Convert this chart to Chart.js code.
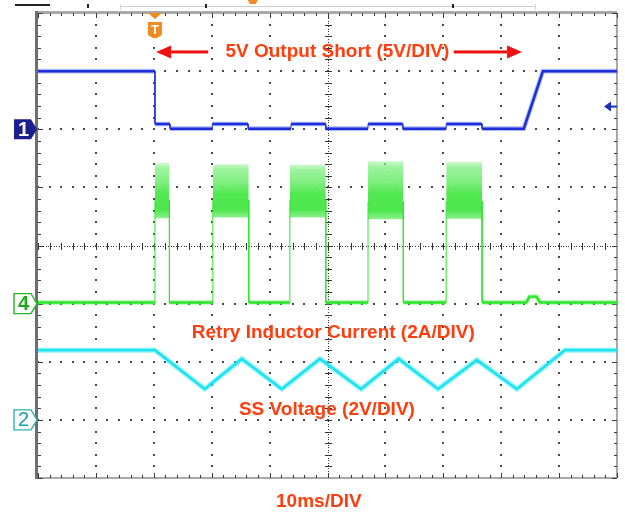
<!DOCTYPE html>
<html>
<head>
<meta charset="utf-8">
<title>Retry Mode Short Circuit</title>
<script src="https://cdn.jsdelivr.net/npm/chart.js@4.4.1/dist/chart.umd.min.js"></script>
<style>
  html, body { margin: 0; padding: 0; background: #fff; }
  canvas { display: block; }
</style>
</head>
<body>
<canvas id="scope" width="625" height="512"></canvas>
<script>
// Screen: 10 horizontal divisions of 10 ms, 8 vertical divisions (y in divisions, 0 = bottom)
const X_DIVS = 10;
const Y_DIVS = 8;
const MS_PER_DIV = 10;

// CH1 – 5 V output (5V/DIV), ground reference at 6 div
const ch1Ground = 6;
const ch1Time  = [0, 20.2, 20.2, 22.8, 22.8, 30.1, 30.1, 36.3, 36.3, 43.7, 43.7, 49.7, 49.7, 57.0, 57.0, 63.0, 63.0, 70.5, 70.5, 76.7, 76.7, 83.9, 87.2, 100];
const ch1Level = [7.0, 7.0, 6.09, 6.09, 6.01, 6.01, 6.09, 6.09, 6.01, 6.01, 6.09, 6.09, 6.01, 6.01, 6.09, 6.09, 6.01, 6.01, 6.09, 6.09, 6.01, 6.01, 7.0, 7.0];
const ch1TrigLevel = 6.39;

// CH4 – inductor current (2A/DIV), ground reference at 3 div
const ch4Ground   = 3;
const ch4Baseline = 3.02;
const burstStart  = [20.2, 30.2, 43.5, 57.0, 70.5];
const burstEnd    = [22.7, 36.4, 49.7, 63.1, 76.7];
const burstHigh   = [5.42, 5.40, 5.39, 5.45, 5.44];
const burstLow    = [4.47, 4.48, 4.48, 4.45, 4.46];
const ch4BumpTime  = [84.3, 84.9, 86.1, 86.7];
const ch4BumpLevel = [3.02, 3.12, 3.12, 3.02];

// CH2 – soft-start voltage (2V/DIV), ground reference at 1 div
const ch2Ground = 1;
const ch2Time  = [0, 20.2, 28.8, 35.2, 42.1, 48.7, 55.8, 62.3, 69.1, 75.8, 82.7, 91.0, 100];
const ch2Level = [2.2, 2.2, 1.53, 2.05, 1.53, 2.05, 1.53, 2.05, 1.53, 2.03, 1.53, 2.2, 2.2];

// Trigger point
const triggerTime = 20.2;

// Captions
const captionShort   = '5V Output Short (5V/DIV)';
const captionCurrent = 'Retry Inductor Current (2A/DIV)';
const captionSS      = 'SS Voltage (2V/DIV)';
const captionTime    = '10ms/DIV';

const pts = (xs, ys) => xs.map((x, i) => ({ x, y: ys[i] }));

// CH4 trace: baseline with thin edges rising into each burst
const ch4Points = [{ x: 0, y: ch4Baseline }];
burstStart.forEach((s, i) => {
  const e = burstEnd[i];
  ch4Points.push({ x: s, y: ch4Baseline }, { x: s, y: burstLow[i] + 0.3 }, { x: (s + e) / 2, y: null },
                 { x: e, y: burstLow[i] + 0.3 }, { x: e, y: ch4Baseline });
});
ch4Points.push(...pts(ch4BumpTime, ch4BumpLevel), { x: 100, y: ch4Baseline });

const thinVertical = (wide, thin) => ({
  borderWidth: c => (Math.abs(c.p0.x - c.p1.x) < 0.5 ? thin : wide)
});

function trace(data, color, width, order, thin) {
  return {
    data, borderColor: color, borderWidth: width, pointRadius: 0, showLine: true,
    fill: false, tension: 0, spanGaps: false, order,
    segment: thinVertical(width, thin)
  };
}

const datasets = [
  trace(pts(ch2Time, ch2Level), '#1fe3ef', 2.8, 0, 2.8),
  trace(pts(ch2Time, ch2Level), 'rgba(70,236,246,0.45)', 5.5, 1, 5.5),
  trace(pts(ch1Time, ch1Level), '#1c2ed8', 2.5, 2, 0.8),
  trace(pts(ch1Time, ch1Level), 'rgba(50,80,235,0.40)', 4.6, 3, 0.8),
  trace(ch4Points, '#2be62b', 2.4, 4, 0.9),
  trace(ch4Points, 'rgba(80,236,80,0.45)', 4.6, 5, 0.6)
];

// Burst envelopes: switching-current band, densest just below its middle
burstStart.forEach((s, i) => {
  const e = burstEnd[i];
  const hi = burstHigh[i], lo = burstLow[i];
  datasets.push({
    data: [{ x: s, y: hi }, { x: e, y: hi }], borderWidth: 0, pointRadius: 0, showLine: true,
    borderColor: 'transparent', fill: '+1', order: 10,
    backgroundColor: c => {
      const chart = c.chart, yScale = chart.scales.y;
      if (!chart.chartArea || !yScale) return 'rgba(110,236,110,0.9)';
      const g = chart.ctx.createLinearGradient(0, yScale.getPixelForValue(hi), 0, yScale.getPixelForValue(lo));
      g.addColorStop(0.00, 'rgba(160,244,160,0.55)');
      g.addColorStop(0.10, 'rgba(140,241,140,0.85)');
      g.addColorStop(0.35, 'rgba(120,238,120,0.95)');
      g.addColorStop(0.55, 'rgba(82,232,82,1)');
      g.addColorStop(0.85, 'rgba(78,230,78,1)');
      g.addColorStop(1.00, 'rgba(120,238,120,0.85)');
      return g;
    }
  });
  datasets.push({
    data: [{ x: s, y: lo }, { x: e, y: lo }], borderWidth: 0, pointRadius: 0, showLine: true,
    borderColor: 'transparent', backgroundColor: 'transparent', fill: false, order: 10
  });
});

function minorSteps(count) { const r = []; for (let i = 0; i <= count * 5; i++) r.push(i / 5); return r; }

const scopeScreen = {
  id: 'scopeScreen',
  beforeDatasetsDraw(chart) {
    const { ctx, chartArea: a, scales: { x, y } } = chart;
    ctx.save();
    // Dotted graticule lines
    ctx.fillStyle = '#4a4a4a';
    for (let i = 1; i < X_DIVS; i++) {
      if (i === X_DIVS / 2) continue;
      const px = Math.round(x.getPixelForValue(i * MS_PER_DIV));
      minorSteps(Y_DIVS).forEach(v => {
        const py = Math.round(y.getPixelForValue(v));
        ctx.fillRect(px - 1, py - 1, 2, 2);
      });
    }
    for (let j = 1; j < Y_DIVS; j++) {
      if (j === Y_DIVS / 2) continue;
      const py = Math.round(y.getPixelForValue(j));
      minorSteps(X_DIVS).forEach(v => {
        const px = Math.round(x.getPixelForValue(v * MS_PER_DIV));
        ctx.fillRect(px - 1, py - 1, 2, 2);
      });
    }
    // Centre axes with fine dots and minor ticks
    const cx = Math.round(x.getPixelForValue(X_DIVS / 2 * MS_PER_DIV));
    const cy = Math.round(y.getPixelForValue(Y_DIVS / 2));
    ctx.fillStyle = '#333';
    for (let px = a.left; px <= a.right; px += 2.6) ctx.fillRect(Math.round(px), cy, 1, 1);
    for (let py = a.top; py <= a.bottom; py += 2.6) ctx.fillRect(cx, Math.round(py), 1, 1);
    minorSteps(X_DIVS).forEach(v => {
      const px = Math.round(x.getPixelForValue(v * MS_PER_DIV));
      ctx.fillRect(px, cy - 3, 1, 7);
    });
    minorSteps(Y_DIVS).forEach(v => {
      const py = Math.round(y.getPixelForValue(v));
      ctx.fillRect(cx - 3, py, 7, 1);
    });
    // Frame with edge ticks
    ctx.fillStyle = '#a8a8a8';
    ctx.fillRect(a.left, a.top - 2, a.right - a.left, 3);
    ctx.fillRect(a.left, a.bottom - 1, a.right - a.left, 2);
    ctx.fillRect(a.right - 1, a.top, 2, a.bottom - a.top);
    ctx.fillStyle = '#6e6e6e';
    ctx.fillRect(a.left - 3, a.top - 2, 3, a.bottom - a.top + 3);
    ctx.fillStyle = '#3a3a3a';
    minorSteps(X_DIVS).forEach((v, k) => {
      const px = Math.round(x.getPixelForValue(v * MS_PER_DIV));
      const len = k % 5 === 0 ? 5 : 3;
      ctx.fillRect(px, a.top, 1, len);
      ctx.fillRect(px, a.bottom - len, 1, len);
    });
    minorSteps(Y_DIVS).forEach((v, k) => {
      const py = Math.round(y.getPixelForValue(v));
      const len = k % 5 === 0 ? 5 : 3;
      ctx.fillRect(a.left, py, len, 1);
      ctx.fillRect(a.right - len, py, len, 1);
    });
    ctx.restore();
  },
  afterDatasetsDraw(chart) {
    const { ctx, chartArea: a, scales: { x, y } } = chart;
    ctx.save();

    // Record-length strip above the screen
    const sx0 = x.getPixelForValue(14.2), sx1 = x.getPixelForValue(85.8);
    ctx.fillStyle = '#cfcfcf';
    ctx.fillRect(sx0, 6, sx1 - sx0, 1);
    ctx.fillRect(sx0, 4, 1, 6);
    ctx.fillRect(sx1, 4, 1, 6);
    ctx.fillStyle = '#222';
    ctx.fillRect(15, 4, 35, 2);
    [8.5, 28.9, 71.5].forEach(t => ctx.fillRect(Math.round(x.getPixelForValue(t)), 4, 2, 4));
    ctx.fillStyle = '#f28c28';
    const ox = x.getPixelForValue(37.1);
    ctx.beginPath();
    ctx.moveTo(ox - 5, 0); ctx.lineTo(ox + 5, 0); ctx.lineTo(ox + 3, 4); ctx.lineTo(ox - 3, 4);
    ctx.closePath(); ctx.fill();

    // Trigger marker
    const tx = x.getPixelForValue(triggerTime);
    ctx.fillStyle = '#f28a22';
    ctx.beginPath();
    ctx.moveTo(tx - 7, a.top); ctx.lineTo(tx + 7, a.top); ctx.lineTo(tx, a.top + 6);
    ctx.closePath(); ctx.fill();
    ctx.beginPath();
    ctx.moveTo(tx - 7, a.top + 9); ctx.lineTo(tx + 7, a.top + 9);
    ctx.lineTo(tx + 7, a.top + 22); ctx.lineTo(tx + 2, a.top + 25); ctx.lineTo(tx - 2, a.top + 25);
    ctx.lineTo(tx - 7, a.top + 22); ctx.closePath(); ctx.fill();
    ctx.fillStyle = '#fff';
    ctx.font = 'bold 13px "Liberation Sans", Arial, sans-serif';
    ctx.textAlign = 'center'; ctx.textBaseline = 'middle';
    ctx.fillText('T', tx, a.top + 17);

    // Channel ground markers
    const marker = (level, label, fill, stroke, textColor, weight, size) => {
      const py = y.getPixelForValue(level);
      const l = a.left - 24, r = a.left - 7, tip = a.left - 1, h = 10;
      ctx.beginPath();
      ctx.moveTo(l, py - h); ctx.lineTo(r, py - h); ctx.lineTo(tip, py); ctx.lineTo(r, py + h); ctx.lineTo(l, py + h);
      ctx.closePath();
      if (fill) { ctx.fillStyle = fill; ctx.fill(); }
      if (stroke) { ctx.strokeStyle = stroke; ctx.lineWidth = 1.4; ctx.stroke(); }
      ctx.fillStyle = textColor;
      ctx.font = weight + ' ' + size + 'px "Liberation Sans", Arial, sans-serif';
      ctx.textAlign = 'center'; ctx.textBaseline = 'middle';
      ctx.fillText(label, (l + r) / 2 + 1, py + 1);
    };
    marker(ch1Ground, '1', '#1b1f8e', null, '#fff', 'bold', 20);
    marker(ch4Ground, '4', '#fff', '#27b427', '#1fa81f', 'bold', 20);
    marker(ch2Ground, '2', '#fff', '#2cb3b3', '#1a9fa6', 'normal', 20);

    // CH1 trigger level arrow on the right edge
    const ty = y.getPixelForValue(ch1TrigLevel);
    ctx.fillStyle = '#1d2cc0';
    ctx.beginPath();
    ctx.moveTo(a.right - 13, ty); ctx.lineTo(a.right - 6, ty - 5); ctx.lineTo(a.right - 6, ty + 5);
    ctx.closePath(); ctx.fill();
    ctx.fillRect(a.right - 7, ty - 1, 7, 2);

    // Short-circuit span arrows
    const ay = y.getPixelForValue(7.33);
    const arrow = (tipMs, tailMs) => {
      const tip = x.getPixelForValue(tipMs), tail = x.getPixelForValue(tailMs);
      const dir = Math.sign(tail - tip), head = 15;
      ctx.fillStyle = '#ee1111';
      ctx.fillRect(Math.min(tip + dir * head, tail), ay - 1.5, Math.abs(tail - tip) - head, 3);
      ctx.beginPath();
      ctx.moveTo(tip, ay); ctx.lineTo(tip + dir * head, ay - 6.5); ctx.lineTo(tip + dir * head, ay + 6.5);
      ctx.closePath(); ctx.fill();
    };
    arrow(20.4, 29.4);
    arrow(83.6, 71.8);

    // Captions
    ctx.fillStyle = '#ff3d0d';
    ctx.font = 'bold 19px "Liberation Sans", Arial, sans-serif';
    ctx.textAlign = 'center'; ctx.textBaseline = 'middle';
    ctx.fillText(captionShort, x.getPixelForValue(51.7), ay);
    ctx.fillText(captionCurrent, x.getPixelForValue(51.0), y.getPixelForValue(2.5));
    ctx.fillText(captionSS, x.getPixelForValue(49.9), y.getPixelForValue(1.17));
    ctx.fillText(captionTime, x.getPixelForValue(48.5), y.getPixelForValue(-0.41));
    ctx.restore();
  }
};

new Chart(document.getElementById('scope'), {
  type: 'scatter',
  data: { datasets },
  options: {
    responsive: false,
    animation: false,
    devicePixelRatio: 1,
    layout: { padding: { left: 38, right: 8, top: 13, bottom: 34 } },
    scales: {
      x: { type: 'linear', min: 0, max: X_DIVS * MS_PER_DIV, display: false },
      y: { type: 'linear', min: 0, max: Y_DIVS, display: false }
    },
    plugins: { legend: { display: false }, tooltip: { enabled: false } }
  },
  plugins: [scopeScreen]
});
</script>
</body>
</html>
